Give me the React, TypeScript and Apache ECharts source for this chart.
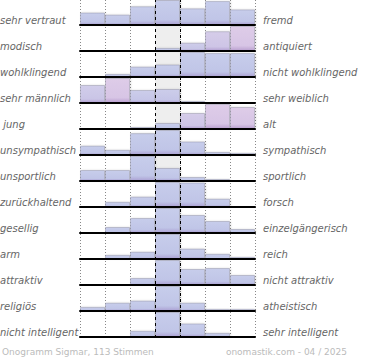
import React, { useEffect, useRef } from "react";
import * as echarts from "echarts";

const leftLabels = [
  "sehr vertraut", "modisch", "wohlklingend", "sehr männlich", " jung",
  "unsympathisch", "unsportlich", "zurückhaltend", "gesellig", "arm",
  "attraktiv", "religiös", "nicht intelligent",
];
const rightLabels = [
  "fremd", "antiquiert", "nicht wohlklingend", "sehr weiblich", "alt",
  "sympathisch", "sportlich", "forsch", "einzelgängerisch", "reich",
  "nicht attraktiv", "atheistisch", "sehr intelligent",
];
const scaleSteps = ["1", "2", "3", "4", "5", "6", "7"];

const vertraut = [12, 10, 18, 24, 16, 23, 15];
const modisch = [0, 0, 0, 3, 8, 19, 24];
const wohlklingend = [0, 3, 10, 12, 24, 23, 23];
const maennlich = [18, 25, 13, 14, 2, 0, 0];
const jung = [0, 0, 2, 6, 16, 25, 22];
const sympathisch = [9, 5, 21, 24, 13, 3, 2];
const sportlich = [11, 11, 25, 13, 4, 2, 0];
const forsch = [0, 5, 10, 24, 23.5, 8, 0];
const gesellig = [1, 6, 15, 25, 18, 12, 4];
const reich = [0, 4, 7, 24, 10, 5, 2];
const attraktiv = [0, 0, 7, 25, 16, 17, 10];
const religioes = [4, 8, 10, 24, 8, 2, 2];
const intelligent = [0, 0, 6, 24, 13, 4, 0];

const rows = [
  vertraut, modisch, wohlklingend, maennlich, jung, sympathisch, sportlich,
  forsch, gesellig, reich, attraktiv, religioes, intelligent,
];

// [row, column, tint 0 (blue) .. 1 (pink)]
const pinkTint: [number, number, number][] = [
  [1, 4, 0.3], [1, 5, 0.6], [1, 6, 1],
  [3, 0, 0.45], [3, 1, 1], [3, 2, 0.2], [3, 3, 0.2],
  [4, 4, 0.6], [4, 5, 1], [4, 6, 1],
];

const footerLeft = "Onogramm Sigmar, 113 Stimmen";
const footerRight = "onomastik.com - 04 / 2025";

const ROW_H = 26;
const BAR_H = 25;
const LEFT = 80;
const WIDTH = 175;

function mix(a: number[], b: number[], t: number) {
  const c = a.map((v, i) => Math.round(v + (b[i] - v) * t));
  return `rgb(${c[0]},${c[1]},${c[2]})`;
}

function barColor(t: number) {
  return new echarts.graphic.LinearGradient(0, 0, 0, 1, [
    { offset: 0, color: mix([199, 205, 235], [222, 204, 232], t) },
    { offset: 0.8, color: mix([192, 197, 231], [215, 197, 229], t) },
    { offset: 1, color: mix([172, 162, 212], [186, 160, 208], t) },
  ]);
}

export default function App() {
  const ref = useRef<HTMLDivElement>(null);
  useEffect(() => {
    if (!ref.current) return;
    const chart = echarts.init(ref.current, undefined, { renderer: "svg" });
    const grids: any[] = [];
    const xAxes: any[] = [];
    const yAxes: any[] = [];
    const series: any[] = [];
    const graphics: any[] = [];
    rows.forEach((vals, i) => {
      const max = Math.max(...vals);
      grids.push({ left: LEFT, width: WIDTH, top: i * ROW_H, height: BAR_H });
      xAxes.push({
        type: "category", gridIndex: i, data: scaleSteps, z: 5,
        axisTick: { show: false }, axisLabel: { show: false },
        axisLine: { show: true, lineStyle: { color: "#000", width: 2 } },
        splitLine: { show: false },
      });
      yAxes.push({ type: "value", gridIndex: i, min: 0, max, show: false });
      series.push({
        type: "bar", xAxisIndex: i, yAxisIndex: i, silent: true, z: 1,
        barWidth: "100%",
        data: scaleSteps.map((_, j) => (j === 3 ? max : "-")),
        itemStyle: { color: "#eeeeee" },
      });
      series.push({
        type: "bar", xAxisIndex: i, yAxisIndex: i, silent: true, z: 2,
        barWidth: "100%", barGap: "-100%",
        data: vals.map((v, j) => {
          const tint = pinkTint.find((p) => p[0] === i && p[1] === j);
          return {
            value: v === 0 ? "-" : v,
            itemStyle: {
              color: barColor(tint ? tint[2] : 0),
              borderColor: "rgba(130,130,150,0.4)",
              borderWidth: 1,
              shadowColor: "rgba(0,0,0,0.15)",
              shadowBlur: 2,
              shadowOffsetX: 1,
            },
          };
        }),
      });
      graphics.push({
        type: "text", x: 0, y: i * ROW_H + 20,
        style: {
          text: leftLabels[i], fill: "#666", font: 'italic 10px "DejaVu Sans"',
          textVerticalAlign: "middle",
        },
      });
      graphics.push({
        type: "text", x: 263, y: i * ROW_H + 20,
        style: {
          text: rightLabels[i], fill: "#666", font: 'italic 10px "DejaVu Sans"',
          textVerticalAlign: "middle",
        },
      });
    });
    const ov = rows.length;
    grids.push({ left: LEFT, width: WIDTH, top: 0, height: 338 });
    xAxes.push({
      type: "value", gridIndex: ov, min: 0, max: 7, interval: 1, z: 0,
      axisLine: { show: false }, axisTick: { show: false }, axisLabel: { show: false },
      splitLine: { show: true, lineStyle: { type: [1, 2], color: "#888", width: 1 } },
    });
    yAxes.push({ type: "value", gridIndex: ov, min: 0, max: 1, show: false });
    series.push({
      type: "line", xAxisIndex: ov, yAxisIndex: ov, data: [], z: 10, silent: true,
      markLine: {
        symbol: "none", silent: true, label: { show: false },
        lineStyle: { type: [3, 3], color: "#000", width: 1 },
        data: [{ xAxis: 3 }, { xAxis: 4 }],
      },
    });
    graphics.push({
      type: "text", x: 2, y: 352,
      style: { text: footerLeft, fill: "#bbb", font: '9px "DejaVu Sans"', textVerticalAlign: "middle" },
    });
    graphics.push({
      type: "text", x: 347, y: 352,
      style: { text: footerRight, fill: "#bbb", font: '9px "DejaVu Sans"', textVerticalAlign: "middle", textAlign: "right" },
    });
    chart.setOption({
      animation: false,
      grid: grids,
      xAxis: xAxes,
      yAxis: yAxes,
      series,
      graphic: graphics,
    });
    return () => chart.dispose();
  }, []);
  return (
    <div
      ref={ref}
      style={{ position: "fixed", left: 0, top: 0, width: 370, height: 360, background: "#fff" }}
    />
  );
}
